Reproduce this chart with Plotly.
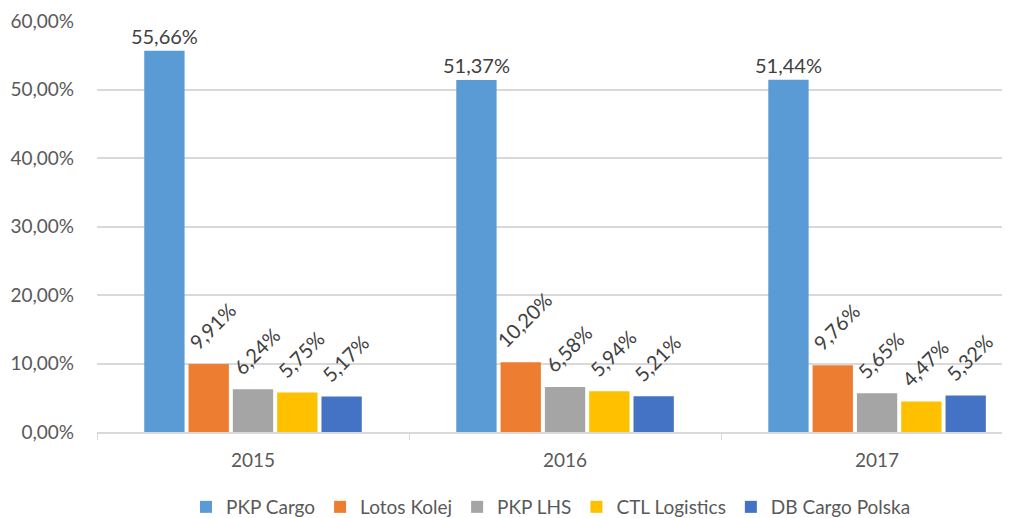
import plotly.graph_objects as go

years = ["2015", "2016", "2017"]
pkp_cargo = [0.5566, 0.5137, 0.5144]
lotos_kolej = [0.0991, 0.1020, 0.0976]
pkp_lhs = [0.0624, 0.0658, 0.0565]
ctl_logistics = [0.0575, 0.0594, 0.0447]
db_cargo = [0.0517, 0.0521, 0.0532]

series = [
    ("PKP Cargo", pkp_cargo, "#5B9BD5", 0),
    ("Lotos Kolej", lotos_kolej, "#ED7D31", -45),
    ("PKP LHS", pkp_lhs, "#A5A5A5", -45),
    ("CTL Logistics", ctl_logistics, "#FFC000", -45),
    ("DB Cargo Polska", db_cargo, "#4472C4", -45),
]

font_family = "Lato, Noto Sans, sans-serif"

fig = go.Figure()
for name, vals, color, angle in series:
    # rotated labels get a little padding so they sit higher above the bar
    tmpl = "%{y:.2%}" if angle == 0 else "\u00a0\u00a0%{y:.2%}"
    fig.add_trace(go.Bar(
        x=years, y=vals, name=name,
        marker=dict(color=color, line=dict(width=0)),
        texttemplate=tmpl,
        textposition="outside",
        textangle=angle,
        constraintext="none",
        cliponaxis=False,
        textfont=dict(size=20, color="#404040", family=font_family),
    ))

# page body has an 8px margin, so the figure is offset by 8px
fig.update_layout(
    width=1010, height=518,
    separators=",.",
    barmode="group",
    bargap=0.29,
    bargroupgap=0.09,
    plot_bgcolor="white",
    paper_bgcolor="white",
    margin=dict(l=89, r=13, t=13, b=94),
    font=dict(family=font_family, size=19, color="#595959"),
    legend=dict(
        orientation="h", x=0.5, xanchor="center",
        yref="container", y=0.0, yanchor="bottom",
        font=dict(size=19, color="#595959"), itemwidth=30,
    ),
    xaxis=dict(
        type="category", range=[-0.5, 2.41], automargin=False,
        showline=True, linecolor="#D9D9D9", linewidth=1.5,
        ticks="outside", tickson="boundaries", ticklen=6, tickcolor="#D9D9D9",
        showgrid=False, ticklabelstandoff=10,
        tickfont=dict(size=19, color="#595959"),
    ),
    yaxis=dict(
        range=[0, 0.6], dtick=0.1, tickformat=".2%", automargin=False,
        showgrid=True, gridcolor="#D9D9D9", gridwidth=1.5,
        zeroline=False, showline=False, ticks="",
        ticklabelstandoff=22,
        tickfont=dict(size=19, color="#595959"),
    ),
)

fig.write_html("out.html")
